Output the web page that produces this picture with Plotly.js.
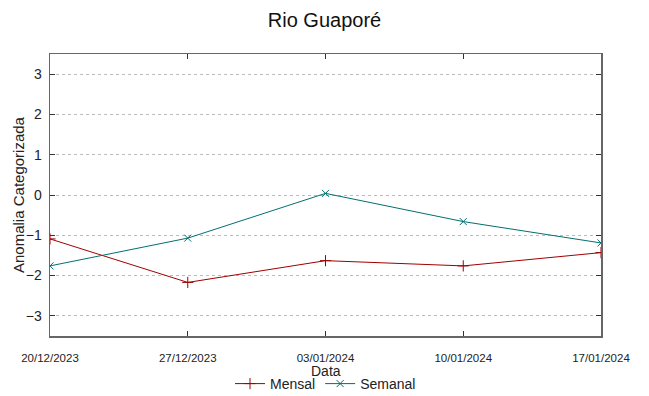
<!DOCTYPE html>
<html>
<head>
<meta charset="utf-8">
<script src="https://cdn.plot.ly/plotly-3.0.1.min.js"></script>
<style>html,body{margin:0;padding:0;background:#fff;}</style>
</head>
<body>
<div id="chart" style="width:649px;height:396px;"></div>
<script>
const dates = ['2023-12-20', '2023-12-27', '2024-01-03', '2024-01-10', '2024-01-17'];
const tickLabels = ['20/12/2023', '27/12/2023', '03/01/2024', '10/01/2024', '17/01/2024'];
const mensal = [-1.09, -2.17, -1.63, -1.76, -1.43];
const semanal = [-1.76, -1.07, 0.04, -0.66, -1.19];

const traces = [
  {x: dates, y: mensal, name: 'Mensal', type: 'scatter', mode: 'lines+markers',
   line: {color: '#a00000', width: 1},
   marker: {symbol: 'cross-thin', size: 8, line: {color: '#a00000', width: 1}}},
  {x: dates, y: semanal, name: 'Semanal', type: 'scatter', mode: 'lines+markers',
   line: {color: '#007070', width: 1},
   marker: {symbol: 'x-thin', size: 7, line: {color: '#007070', width: 1}}}
];

const plotW = 649 - 50 - 48, plotH = 396 - 54 - 60;

const layout = {
  width: 649, height: 396,
  margin: {l: 50, r: 48, t: 54, b: 60},
  paper_bgcolor: '#fff', plot_bgcolor: '#fff',
  font: {family: 'Liberation Sans, Arial, sans-serif', color: '#222'},
  title: {text: 'Rio Guaporé', x: 0.5, xanchor: 'center', yref: 'container', y: 0.95, yanchor: 'middle', font: {size: 20, color: '#111'}},
  xaxis: {
    type: 'date', range: [dates[0], dates[dates.length - 1]],
    tickvals: dates, ticktext: tickLabels,
    tickfont: {size: 11.5, color: '#222'},
    ticks: 'inside', ticklen: 5, tickcolor: '#333', mirror: 'ticks',
    showline: true, linecolor: '#666', linewidth: 1.5,
    showgrid: false, zeroline: false,
    ticklabelstandoff: 11
  },
  yaxis: {
    range: [-3.5, 3.5], tickvals: [-3, -2, -1, 0, 1, 2, 3],
    tickfont: {size: 14, color: '#222'},
    ticks: 'inside', ticklen: 5, tickcolor: '#333', mirror: 'ticks',
    showline: true, linecolor: '#666', linewidth: 1.5,
    showgrid: true, gridcolor: '#bbb', griddash: 'dot', gridwidth: 1,
    zeroline: false, ticklabelstandoff: 4
  },
  annotations: [
    {text: 'Data', xref: 'paper', yref: 'paper', x: 0.5, y: -(371 - 336) / plotH, xanchor: 'center', yanchor: 'middle',
     showarrow: false, font: {size: 14, color: '#222'}},
    {text: 'Anomalia Categorizada', xref: 'paper', yref: 'paper', x: -(50 - 18) / plotW, y: 0.5, xanchor: 'center', yanchor: 'middle',
     textangle: -90, showarrow: false, font: {size: 15, color: '#222'}}
  ],
  showlegend: true,
  legend: {orientation: 'h', x: 0.5, xanchor: 'center', yref: 'container', y: 1 - 384/396, yanchor: 'middle',
    font: {size: 14, color: '#222'},
    bgcolor: 'rgba(0,0,0,0)'}
};

Plotly.newPlot('chart', traces, layout, {displayModeBar: false, staticPlot: true});
</script>
</body>
</html>
